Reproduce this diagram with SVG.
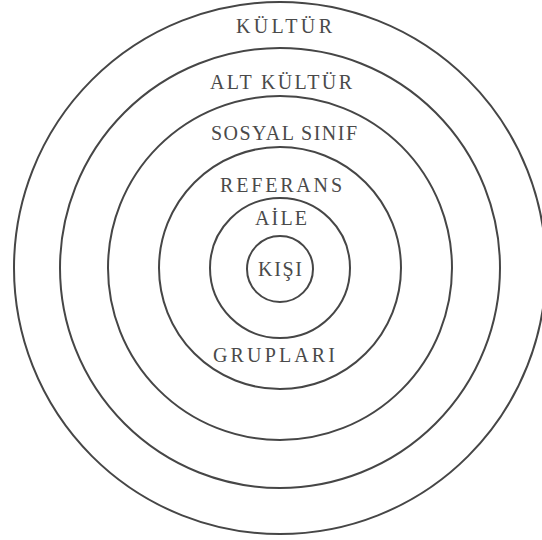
<svg xmlns="http://www.w3.org/2000/svg" width="542" height="540" viewBox="0 0 542 540">
<style>
.ring{fill:none;stroke:#464646;stroke-width:2}
.lbl{font-family:"Liberation Serif","Times New Roman",serif;font-size:20px;fill:#4a4a4a;text-anchor:middle}
</style>
<rect width="542" height="540" fill="#ffffff"/>
<g id="connectors"></g>
<g id="kultur">
<circle class="ring" cx="280" cy="268" r="266"/>
<text class="lbl" x="284" y="33" textLength="96" lengthAdjust="spacing">KÜLTÜR</text>
</g>
<g id="alt-kultur">
<circle class="ring" cx="280" cy="268" r="220"/>
<text class="lbl" x="281" y="89" textLength="142" lengthAdjust="spacing">ALT KÜLTÜR</text>
</g>
<g id="sosyal-sinif">
<circle class="ring" cx="280" cy="268" r="172"/>
<text class="lbl" x="284" y="140" textLength="146" lengthAdjust="spacing">SOSYAL SINIF</text>
</g>
<g id="referans-gruplari">
<circle class="ring" cx="280" cy="268" r="121"/>
<text class="lbl" x="281" y="192" textLength="122" lengthAdjust="spacing">REFERANS</text>
<text class="lbl" x="274" y="362" textLength="122" lengthAdjust="spacing">GRUPLARI</text>
</g>
<g id="aile">
<circle class="ring" cx="280" cy="268" r="70"/>
<text class="lbl" x="281" y="225" textLength="52" lengthAdjust="spacing">AİLE</text>
</g>
<g id="kisi">
<circle class="ring" cx="280" cy="269" r="33"/>
<text class="lbl" x="280" y="276" textLength="44" lengthAdjust="spacing">KIŞI</text>
</g>
</svg>
